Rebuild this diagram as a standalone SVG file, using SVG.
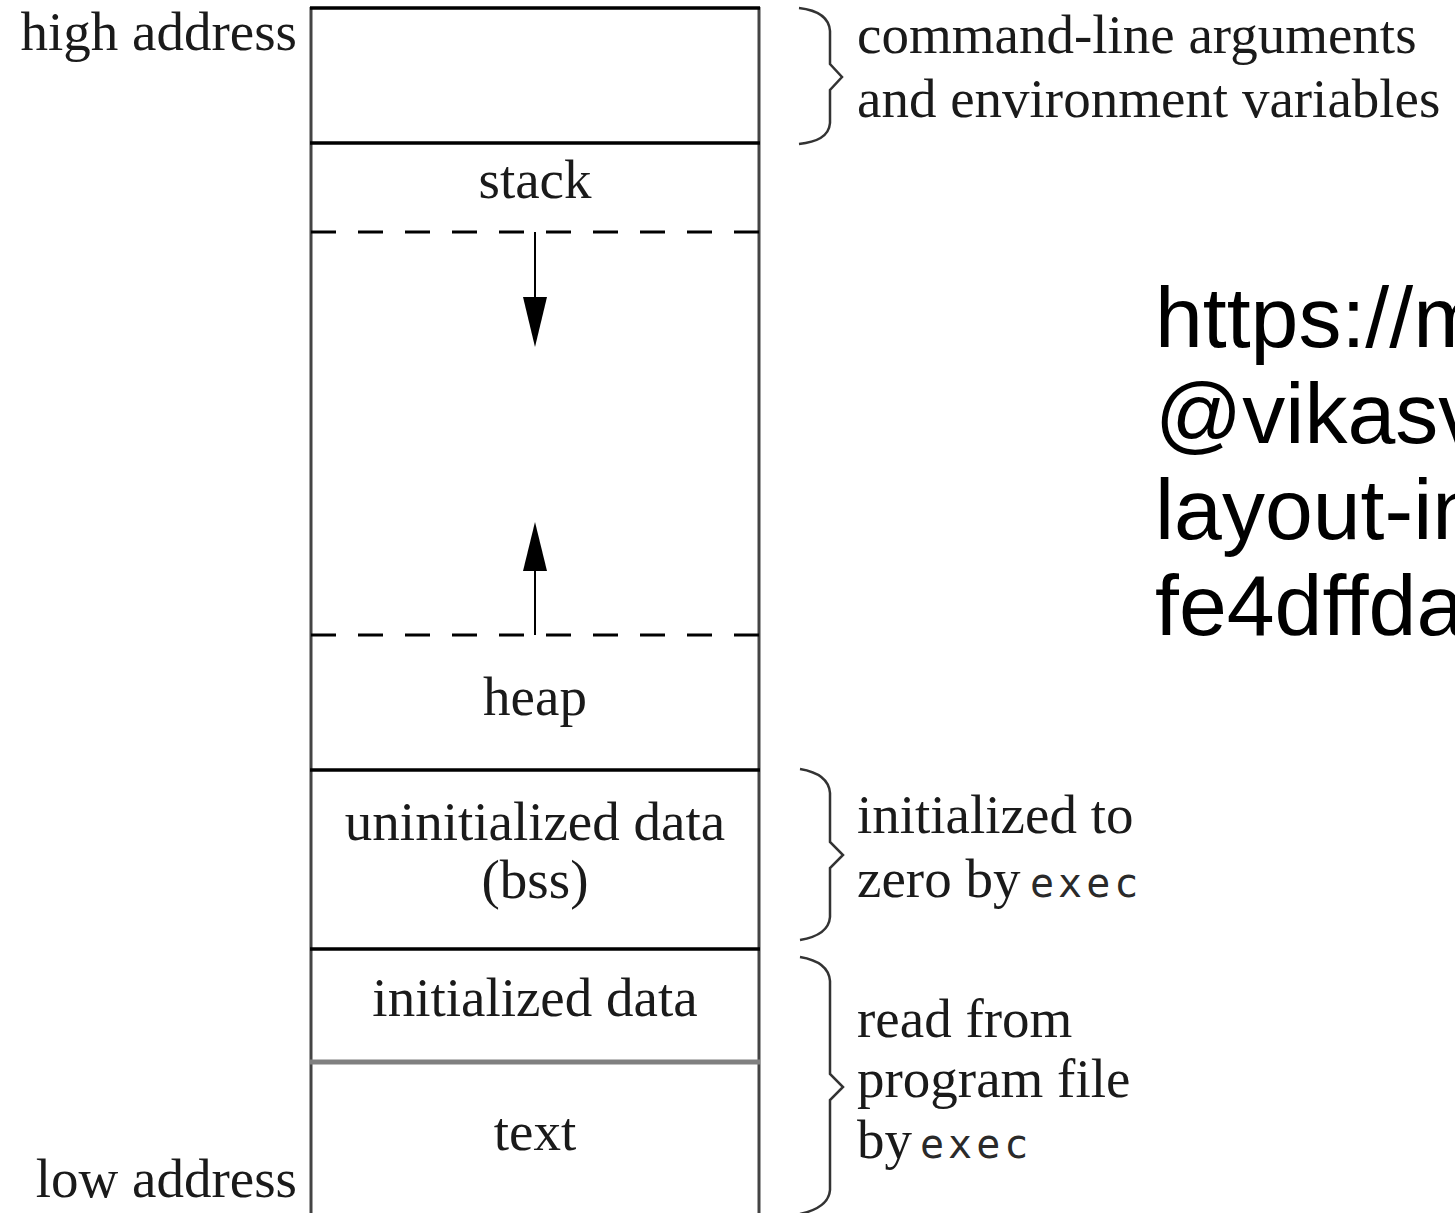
<svg xmlns="http://www.w3.org/2000/svg" width="1455" height="1213" viewBox="0 0 1455 1213">
<defs>
<style>
.serif{font-family:"Liberation Serif","Times New Roman",serif;font-size:55px;fill:#1a1a1a}
.mid{text-anchor:middle}
.end{text-anchor:end}
.mono{font-family:"DejaVu Sans Mono",monospace;font-size:40px;letter-spacing:4px;fill:#2a2a2a}
.url{font-family:"Liberation Sans",Arial,sans-serif;font-size:86px;fill:#000}
.edge{stroke:#444;stroke-width:3;fill:none}
.hline{stroke:#000;stroke-width:3.5;fill:none}
.dash{stroke:#000;stroke-width:3;stroke-dasharray:25 22;fill:none}
.brace{stroke:#333;stroke-width:2.5;fill:none;stroke-linejoin:miter}
.stem{stroke:#000;stroke-width:2;fill:none}
</style>
</defs>
<rect width="1455" height="1213" fill="#fff"/>

<g id="frame">
<line class="edge" x1="311" y1="7" x2="311" y2="1213"/>
<line class="edge" x1="759" y1="7" x2="759" y2="1213"/>
</g>

<g id="seg-args">
<line class="hline" x1="310" y1="8" x2="760" y2="8"/>
</g>

<g id="seg-stack">
<line class="hline" x1="310" y1="143" x2="760" y2="143"/>
<text class="serif mid" x="535" y="198">stack</text>
</g>

<g id="seg-free">
<line class="dash" x1="311" y1="232" x2="759" y2="232"/>
<line class="dash" x1="311" y1="635" x2="759" y2="635"/>
</g>

<g id="seg-heap">
<text class="serif mid" x="535" y="715">heap</text>
</g>

<g id="seg-bss">
<line class="hline" x1="310" y1="770" x2="760" y2="770"/>
<text class="serif mid" x="535" y="840">uninitialized data</text>
<text class="serif mid" x="535" y="898">(bss)</text>
</g>

<g id="seg-data">
<line class="hline" x1="310" y1="949" x2="760" y2="949"/>
<text class="serif mid" x="535" y="1016">initialized data</text>
</g>

<g id="seg-text">
<line x1="310" y1="1062" x2="760" y2="1062" stroke="#808080" stroke-width="5"/>
<text class="serif mid" x="535" y="1150">text</text>
</g>

<g id="connectors">
<line class="stem" x1="535" y1="232" x2="535" y2="300"/>
<path d="M523,297 L547,297 L535,347 Z" fill="#000"/>
<line class="stem" x1="535" y1="568" x2="535" y2="635"/>
<path d="M523,571 L547,571 L535,522 Z" fill="#000"/>
</g>

<g id="labels-left">
<text class="serif end" x="297" y="50">high address</text>
<text class="serif end" x="297" y="1197">low address</text>
</g>

<g id="note-args">
<path class="brace" d="M799,8 C816,10 829,17 830,31 L830,64 L842,77 L830,90 L830,123 C829,137 816,142 799,144"/>
<text class="serif" x="857" y="53">command-line arguments</text>
<text class="serif" x="857" y="117">and environment variables</text>
</g>

<g id="note-bss">
<path class="brace" d="M800,769 C818,772 829,780 830,793 L830,842 L843,855 L830,868 L830,917 C829,930 818,937 800,940"/>
<text class="serif" x="857" y="833">initialized to</text>
<text class="serif" x="857" y="897">zero by<tspan class="mono" x="1030">exec</tspan></text>
</g>

<g id="note-file">
<path class="brace" d="M800,957 C818,960 829,968 830,981 L830,1074 L843,1087 L830,1100 L830,1190 C829,1203 818,1210 800,1214"/>
<text class="serif" x="857" y="1037">read from</text>
<text class="serif" x="857" y="1097">program file</text>
<text class="serif" x="857" y="1158">by<tspan class="mono" x="920">exec</tspan></text>
</g>

<g id="url">
<text class="url" x="1155" y="347">https://m</text>
<text class="url" x="1155" y="443">@vikasv</text>
<text class="url" x="1155" y="539">layout-in</text>
<text class="url" x="1155" y="635">fe4dffda</text>
</g>
</svg>
